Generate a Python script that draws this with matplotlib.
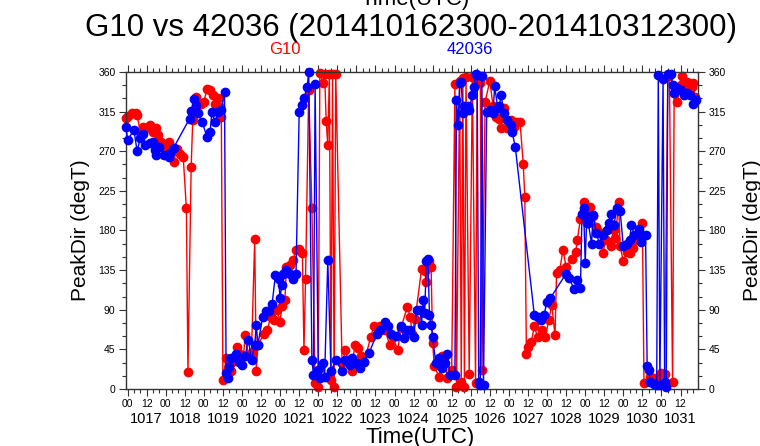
import matplotlib
matplotlib.use("Agg")
import matplotlib.pyplot as plt
from matplotlib.ticker import MultipleLocator, FixedLocator
import matplotlib.transforms as mtransforms

plt.rcParams['font.family'] = ['Liberation Sans', 'DejaVu Sans']

# hours since 2014-10-17 00Z, peak direction (degT)
g10_hour = [-1, 0, 3, 5, 6, 8, 10, 12, 14, 16, 18, 19, 21, 24, 26, 28, 29, 31, 33, 35,
            37, 38, 40, 41, 42, 43, 46, 48, 50, 52, 54, 55, 57, 58, 59, 60, 62, 65, 66, 69,
            71, 73, 74, 76, 78, 80, 81, 82, 86, 88, 90, 92, 94, 96, 97, 99, 100, 102, 104, 106,
            108, 110, 111, 112, 114, 116, 118, 120, 121, 123, 124, 125, 126, 127, 128, 129, 130, 131, 135, 137,
            139, 141, 143, 145, 147, 149, 153, 155, 159, 162, 165, 167, 170, 172, 176, 178, 179, 181, 185, 187,
            188, 190, 191, 192, 193, 196, 198, 200, 201, 204, 206, 207, 209, 210, 211, 212, 213, 215, 217, 219,
            220, 222, 223, 225, 228, 230, 232, 234, 235, 237, 239, 241, 243, 245, 247, 249, 250, 251, 252, 254,
            256, 258, 261, 263, 265, 267, 269, 270, 272, 274, 276, 280, 282, 283, 285, 287, 289, 291, 293, 295,
            297, 299, 301, 304, 306, 307, 309, 310, 312, 314, 316, 318, 320, 322, 324, 325, 329, 331, 333, 336,
            338, 340, 341, 343, 344, 346, 348, 349, 350, 352, 353, 355, 356, 357]
g10_dir = [308, 310, 313, 313, 311, 292, 298, 296, 300, 292, 296, 288, 281, 275, 281, 271, 258, 273, 267, 264,
           205, 19, 252, 305, 316, 332, 324, 326, 341, 339, 334, 324, 330, 320, 309, 10, 35, 20, 31, 48,
           40, 38, 61, 38, 42, 170, 20, 50, 63, 67, 82, 78, 90, 76, 94, 101, 139, 141, 146, 158,
           159, 155, 44, 125, 340, 205, 7, 2, 359, 348, 358, 304, 277, 358, 10, 358, 2, 358, 29, 44,
           33, 20, 50, 46, 37, 31, 59, 71, 71, 67, 50, 59, 44, 69, 93, 82, 62, 80, 136, 134,
           121, 145, 139, 52, 26, 14, 38, 37, 12, 22, 346, 2, 350, 8, 353, 2, 354, 17, 354, 7,
           352, 347, 22, 326, 350, 321, 309, 307, 296, 319, 296, 305, 298, 303, 303, 256, 218, 40, 48, 53,
           71, 59, 67, 59, 78, 95, 61, 132, 135, 158, 139, 148, 156, 169, 193, 212, 188, 207, 196, 184,
           178, 154, 169, 162, 180, 171, 212, 162, 145, 156, 154, 160, 169, 170, 188, 7, 14, 12, 10, 18,
           17, 356, 355, 8, 336, 326, 345, 355, 350, 349, 338, 343, 347, 332]

b42036_hour = [-1, 0, 4, 6, 8, 10, 11, 14, 16, 17, 18, 20, 23, 26, 27, 29, 39, 40, 42, 43,
               44, 47, 50, 52, 53, 55, 57, 59, 61, 62, 63, 64, 65, 68, 70, 72, 74, 76, 78, 80,
               81, 82, 85, 87, 89, 91, 93, 95, 96, 97, 98, 100, 102, 104, 106, 108, 110, 111, 113, 114,
               116, 117, 118, 120, 121, 123, 124, 126, 128, 131, 135, 137, 140, 141, 144, 146, 149, 152, 157, 159,
               162, 164, 166, 169, 172, 174, 176, 178, 180, 182, 184, 185, 186, 187, 188, 189, 190, 191, 192, 194,
               196, 198, 200, 201, 203, 206, 207, 208, 209, 210, 211, 212, 214, 215, 217, 218, 219, 220, 221, 222,
               223, 224, 226, 228, 230, 231, 233, 234, 235, 237, 239, 241, 242, 244, 256, 258, 260, 262, 264, 266,
               276, 278, 281, 283, 285, 286, 287, 288, 289, 290, 292, 293, 295, 297, 299, 302, 303, 304, 306, 308,
               310, 312, 314, 316, 317, 319, 322, 323, 324, 326, 327, 328, 329, 331, 333, 334, 335, 337, 338, 339,
               340, 342, 343, 344, 346, 348, 350, 352, 354, 356, 358]
b42036_dir = [298, 283, 294, 270, 285, 290, 277, 279, 281, 271, 266, 275, 266, 264, 268, 274, 307, 316, 329, 322,
              314, 303, 286, 292, 315, 303, 315, 317, 337, 18, 12, 25, 35, 40, 31, 27, 37, 56, 33, 50,
              73, 50, 82, 89, 89, 97, 129, 125, 103, 118, 131, 135, 131, 125, 131, 315, 322, 330, 343, 360,
              33, 16, 346, 22, 12, 29, 14, 146, 20, 33, 20, 33, 27, 35, 29, 24, 31, 41, 63, 67,
              76, 71, 62, 60, 71, 58, 67, 67, 59, 90, 90, 73, 101, 86, 145, 148, 84, 73, 59, 29,
              35, 24, 29, 40, 16, 16, 328, 300, 347, 349, 313, 321, 321, 317, 334, 343, 358, 357, 8, 4,
              355, 4, 315, 317, 313, 344, 319, 321, 334, 313, 305, 300, 292, 275, 84, 82, 78, 84, 99, 103,
              131, 126, 113, 124, 115, 199, 205, 143, 196, 188, 165, 198, 177, 165, 175, 180, 188, 199, 186, 205,
              202, 162, 165, 169, 186, 175, 182, 167, 175, 175, 26, 22, 8, 6, 5, 357, 5, 352, 8, 2,
              358, 358, 345, 336, 342, 340, 334, 336, 334, 324, 328]

day_labels = ['1017', '1018', '1019', '1020', '1021', '1022', '1023', '1024',
              '1025', '1026', '1027', '1028', '1029', '1030', '1031']

fig = plt.figure(figsize=(7.6, 4.46), dpi=100)
ax = fig.add_axes([126 / 760, 57 / 446, 572 / 760, 317 / 446])

ax.plot(g10_hour, g10_dir, color='red', lw=1, marker='o', ms=6,
        mec='red', mfc='red', clip_on=False, zorder=2)
ax.plot(b42036_hour, b42036_dir, color='blue', lw=1, marker='o', ms=6,
        mec='blue', mfc='blue', clip_on=False, zorder=3)

ax.set_xlim(-1, 359)
ax.set_ylim(0, 360)

ax.xaxis.set_major_locator(FixedLocator(list(range(0, 349, 12))))
ax.xaxis.set_minor_locator(MultipleLocator(4))
ax.set_xticklabels(['00' if h % 24 == 0 else '12' for h in range(0, 349, 12)])
ax.yaxis.set_major_locator(MultipleLocator(45))
ax.yaxis.set_minor_locator(MultipleLocator(15))

ax.tick_params(which='both', direction='out', top=True, right=True,
               labelright=True, color='#333333', width=0.8)
ax.tick_params(which='major', length=5, labelsize=7.5, pad=2.5)
ax.tick_params(which='minor', length=3)
for s in ax.spines.values():
    s.set_color('#333333')
    s.set_linewidth(1)

trans = mtransforms.blended_transform_factory(ax.transData, ax.transAxes)
for i, lab in enumerate(day_labels):
    ax.text(12 + 24 * i, -0.095, lab, transform=trans, ha='center', va='center', fontsize=10.5)

ax.set_ylabel('PeakDir (degT)', fontsize=15, labelpad=6)
fig.text(752 / 760, 0.5 + (446 / 2 - 230) / 446, 'PeakDir (degT)', rotation=90,
         ha='center', va='center', fontsize=15)

fig.text(420 / 760, 1 - 437 / 446, 'Time(UTC)', ha='center', va='center', fontsize=16)
# partly cut off at the top edge, as in the source image
fig.text(415 / 760, 1 - 5 / 446, 'Time(UTC)', ha='center', va='baseline', fontsize=16)

fig.text(411 / 760, 1 - 28 / 446, 'G10 vs 42036 (201410162300-201410312300)',
         ha='center', va='center', fontsize=22.5)
fig.text(285 / 760, 1 - 50 / 446, 'G10', color='red', ha='center', va='center', fontsize=12)
fig.text(470 / 760, 1 - 50 / 446, '42036', color='blue', ha='center', va='center', fontsize=12)

fig.savefig('out.png', dpi=100)
